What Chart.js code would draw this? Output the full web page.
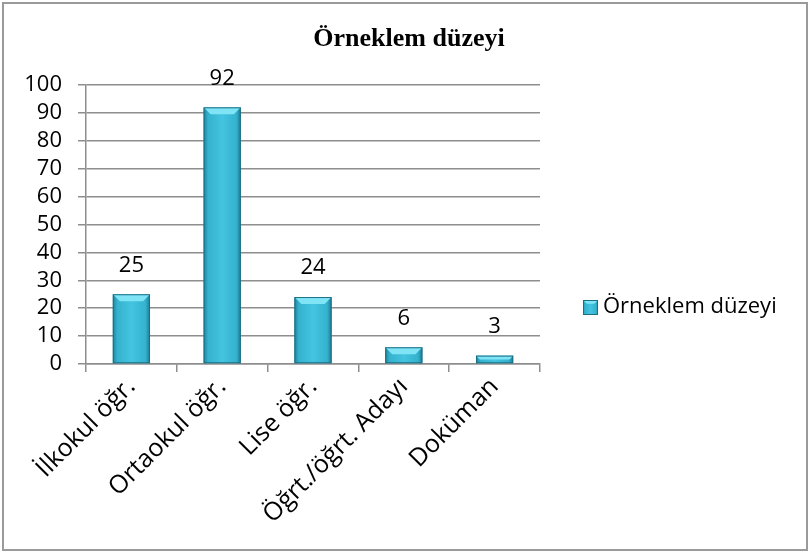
<!DOCTYPE html>
<html>
<head>
<meta charset="utf-8">
<script src="https://cdn.jsdelivr.net/npm/chart.js@4.4.1/dist/chart.umd.min.js"></script>
<style>
    body { margin: 0; background: #fff; }
    canvas { display: block; }
</style>
</head>
<body>
<canvas id="myChart" width="810" height="553"></canvas>
<script>
const categories = ['İlkokul öğr.', 'Ortaokul öğr.', 'Lise öğr.', 'Öğrt./öğrt. Adayı', 'Doküman'];
const counts = [25, 92, 24, 6, 3];
const seriesName = 'Örneklem düzeyi';
const yTicks = [0, 10, 20, 30, 40, 50, 60, 70, 80, 90, 100];

const labelFont = { family: 'Open Sans', size: 22 };
const gridColor = '#8e8e8e';

// white page + thin grey frame round the whole chart
const frame = {
    id: 'frame',
    beforeDraw(chart) {
        const ctx = chart.ctx;
        ctx.save();
        ctx.fillStyle = '#fff';
        ctx.fillRect(0, 0, chart.width, chart.height);
        ctx.strokeStyle = '#9a9a9a';
        ctx.lineWidth = 2;
        ctx.strokeRect(3, 3, chart.width - 6, chart.height - 6);
        ctx.restore();
    }
};

// heading sits centred on the whole frame, not only on the plot
const heading = {
    id: 'heading',
    afterDraw(chart) {
        const ctx = chart.ctx;
        ctx.save();
        ctx.fillStyle = '#000';
        ctx.font = 'bold 26px "Liberation Serif"';
        ctx.textAlign = 'center';
        ctx.textBaseline = 'middle';
        ctx.fillText(seriesName, 409, 39);
        ctx.restore();
    }
};

function paintBevelBar(ctx, left, right, top, bottom) {
    const w = right - left;
    const grad = ctx.createLinearGradient(left, 0, right, 0);
    grad.addColorStop(0, '#1f8299');
    grad.addColorStop(0.12, '#34b2ce');
    grad.addColorStop(0.5, '#44c4e0');
    grad.addColorStop(0.88, '#34b2ce');
    grad.addColorStop(1, '#1d7a90');
    ctx.fillStyle = grad;
    ctx.fillRect(left, top, w, bottom - top);

    // light top facet
    const bevel = Math.min(7, (bottom - top) / 2, w / 4);
    ctx.fillStyle = '#80e4f7';
    ctx.beginPath();
    ctx.moveTo(left, top);
    ctx.lineTo(right, top);
    ctx.lineTo(right - bevel, top + bevel);
    ctx.lineTo(left + bevel, top + bevel);
    ctx.closePath();
    ctx.fill();

    ctx.strokeStyle = '#1b6f84';
    ctx.lineWidth = 1;
    ctx.strokeRect(left + 0.5, top + 0.5, w - 1, bottom - top - 1);
}

// shaded bars and value labels on top
const barLook = {
    id: 'barLook',
    afterDatasetsDraw(chart) {
        const ctx = chart.ctx;
        const meta = chart.getDatasetMeta(0);
        const values = chart.data.datasets[0].data;
        ctx.save();
        meta.data.forEach((bar, i) => {
            const half = bar.width / 2;
            paintBevelBar(ctx, bar.x - half, bar.x + half, bar.y, bar.base);
            ctx.fillStyle = '#000';
            ctx.font = `${labelFont.size}px ${labelFont.family}`;
            ctx.textAlign = 'center';
            ctx.textBaseline = 'middle';
            ctx.fillText(String(values[i]), bar.x, bar.y - 29);
        });
        ctx.restore();
    }
};

// series key at the right of the plot
const sideKey = {
    id: 'sideKey',
    afterDraw(chart) {
        const ctx = chart.ctx;
        const x = 583, y = 307;
        ctx.save();
        paintBevelBar(ctx, x, x + 15, y - 7, y + 8);
        ctx.fillStyle = '#000';
        ctx.font = `${labelFont.size}px ${labelFont.family}`;
        ctx.textAlign = 'left';
        ctx.textBaseline = 'middle';
        ctx.fillText(chart.data.datasets[0].label, x + 20, y);
        ctx.restore();
    }
};

new Chart(document.getElementById('myChart'), {
    type: 'bar',
    data: {
        labels: categories,
        datasets: [{
            label: seriesName,
            data: counts,
            backgroundColor: 'rgba(0,0,0,0)',
            barPercentage: 0.41,
            categoryPercentage: 1
        }]
    },
    options: {
        responsive: false,
        animation: false,
        layout: { padding: { left: 4, right: 270, top: 85, bottom: 0 } },
        plugins: {
            legend: { display: false },
            tooltip: { enabled: false },
            title: { display: false }
        },
        scales: {
            x: {
                afterFit(scale) { scale.height = 189; },
                grid: {
                    offset: true,
                    drawOnChartArea: false,
                    drawTicks: true,
                    tickLength: 8,
                    color: gridColor,
                    lineWidth: 1.5
                },
                border: { color: gridColor, width: 1.5 },
                ticks: {
                    color: '#000',
                    font: { family: 'Open Sans', size: 25 },
                    minRotation: 45,
                    maxRotation: 45,
                    padding: 0
                }
            },
            y: {
                min: 0,
                max: 100,
                afterFit(scale) { scale.width = 82; },
                afterBuildTicks(scale) { scale.ticks = yTicks.map(v => ({ value: v })); },
                grid: { color: gridColor, lineWidth: 1.5, tickLength: 8 },
                border: { color: gridColor, width: 1.5 },
                ticks: { color: '#000', font: labelFont, padding: 16, autoSkip: false }
            }
        }
    },
    plugins: [frame, heading, barLook, sideKey]
});
</script>
</body>
</html>
